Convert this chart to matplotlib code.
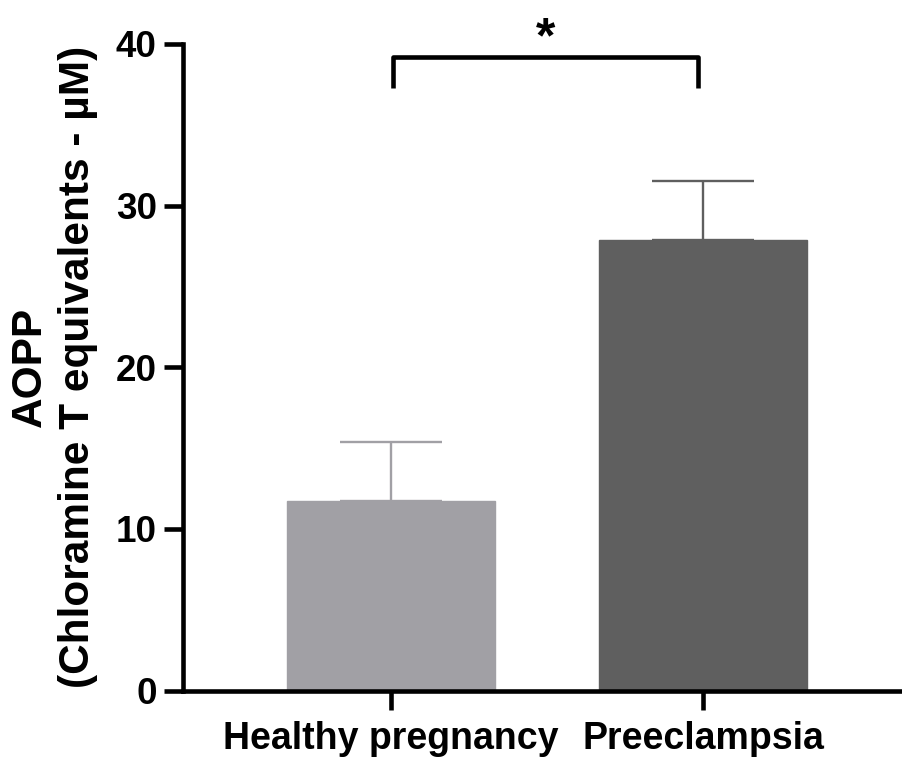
import matplotlib
matplotlib.use("Agg")
import matplotlib.pyplot as plt

plt.rcParams['font.family'] = ['Liberation Sans', 'DejaVu Sans']
plt.rcParams['font.weight'] = 'bold'

groups = ["Healthy pregnancy", "Preeclampsia"]
means = [11.7, 27.9]
sem = [3.65, 3.65]
bar_colors = ["#a1a0a5", "#5f5f5f"]
y_ticks = [0, 10, 20, 30, 40]
significance = "*"

fig = plt.figure(figsize=(9.02, 7.62), dpi=100)
ax = fig.add_axes([0.203, 0.0937, 0.797, 0.8486])

x = list(range(len(groups)))
width = 0.667
for xi, m, s, c in zip(x, means, sem, bar_colors):
    ax.bar(xi, m, width=width, color=c, edgecolor=c, linewidth=1, zorder=2)
    ax.errorbar(xi, m, yerr=[[0], [s]], color=c, elinewidth=1.7,
                capsize=37, capthick=1.7, zorder=1)

ax.set_xlim(-0.667, 1.638)
ax.set_ylim(0, 40)
ax.set_yticks(y_ticks)
ax.set_xticks(x)
ax.set_xticklabels(groups)

for side in ("top", "right"):
    ax.spines[side].set_visible(False)
for side in ("left", "bottom"):
    ax.spines[side].set_linewidth(3.3)
ax.tick_params(axis="both", width=3.3, length=14, labelsize=26.5)
ax.tick_params(axis="x", pad=8, labelsize=27)
ax.tick_params(axis="y", pad=5)

ax.set_ylabel("AOPP\n(Chloramine T equivalents - µM)", fontsize=30.5,
              fontweight="bold", linespacing=1.25, labelpad=13)

# significance bracket between the two groups
bx0, bx1 = x[0] + 0.005, x[1] - 0.016
ax.plot([bx0, bx0, bx1, bx1], [37.3, 39.2, 39.2, 37.3], color="black",
        linewidth=3.3, clip_on=False, solid_joinstyle="round",
        solid_capstyle="butt")
ax.text((bx0 + bx1) / 2, 39.5, significance, ha="center", va="baseline",
        fontsize=36, fontweight="bold", clip_on=False)

fig.savefig("out.png", dpi=100)
